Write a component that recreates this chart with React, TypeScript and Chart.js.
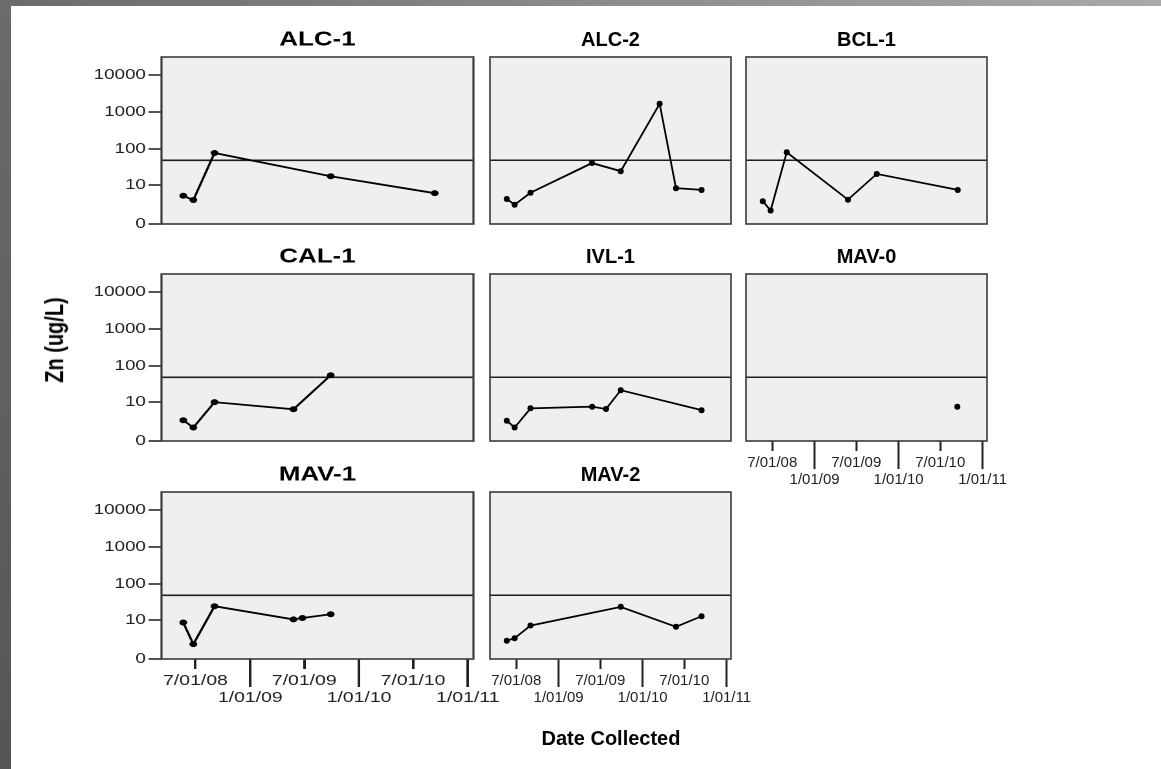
import React, { useEffect, useRef } from "react";
import { Chart, registerables } from "chart.js";

Chart.register(...registerables);

const FONT = '"Liberation Sans", Arial, Helvetica, sans-serif';

// Zn concentration (ug/L) by sampling date, one pair of arrays per site
const ALC1_DATES = ["2008-05-21", "2008-06-24", "2008-09-03", "2009-09-28", "2010-09-12"];
const ALC1_ZN = [4.7, 3.4, 79, 18, 5.7];

const ALC2_DATES = ["2008-05-21", "2008-06-24", "2008-09-01", "2009-05-26", "2009-09-28", "2010-03-16", "2010-05-26", "2010-09-14"];
const ALC2_ZN = [3.7, 2.3, 5.9, 42, 25, 1680, 8.1, 7.2];

const BCL1_DATES = ["2008-05-21", "2008-06-24", "2008-09-02", "2009-05-26", "2009-09-28", "2010-09-15"];
const BCL1_ZN = [3.1, 1.3, 83, 3.5, 21, 7.2];

const CAL1_DATES = ["2008-05-21", "2008-06-24", "2008-09-03", "2009-05-26", "2009-09-28"];
const CAL1_ZN = [2.6, 1.3, 10, 6.1, 57];

const IVL1_DATES = ["2008-05-21", "2008-06-24", "2008-09-01", "2009-05-27", "2009-07-26", "2009-09-28", "2010-09-14"];
const IVL1_ZN = [2.5, 1.3, 6.5, 7.3, 6.2, 22, 5.7];

const MAV0_DATES = ["2010-09-13"];
const MAV0_ZN = [7.3];

const MAV1_DATES = ["2008-05-21", "2008-06-24", "2008-09-03", "2009-05-26", "2009-06-25", "2009-09-28"];
const MAV1_ZN = [8.5, 1.5, 25, 10.5, 11.6, 14.8];

const MAV2_DATES = ["2008-05-21", "2008-06-24", "2008-09-01", "2009-09-28", "2010-05-26", "2010-09-14"];
const MAV2_ZN = [2.1, 2.6, 6.9, 24, 6.3, 13];

// Reference level drawn across every panel
const ZN_GUIDELINE = 50;

// Axis ticks
const Y_TICK_VALUES = [0, 10, 100, 1000, 10000];
const Y_TICK_LABELS = ["0", "10", "100", "1000", "10000"];
const Y_AXIS_TOP = 30000;

const X_MID_DATES = ["2008-07-01", "2009-07-01", "2010-07-01"];
const X_MID_LABELS = ["7/01/08", "7/01/09", "7/01/10"];
const X_NEW_DATES = ["2009-01-01", "2010-01-01", "2011-01-01"];
const X_NEW_LABELS = ["1/01/09", "1/01/10", "1/01/11"];
const X_START = "2008-03-09";
const X_END = "2011-01-20";

const dayOf = (s: string) => {
  const [y, m, d] = s.split("-").map(Number);
  return Date.UTC(y, m - 1, d) / 86400000;
};
// safe-log axis: log10(v + 1) keeps zero on the scale
const zAxis = (v: number) => Math.log10(v + 1);

type PanelSpec = {
  title: string;
  dates: string[];
  values: number[];
  col: number;
  row: number;
  showX: boolean;
};

const PANELS: PanelSpec[] = [
  { title: "ALC-1", dates: ALC1_DATES, values: ALC1_ZN, col: 0, row: 0, showX: false },
  { title: "ALC-2", dates: ALC2_DATES, values: ALC2_ZN, col: 1, row: 0, showX: false },
  { title: "BCL-1", dates: BCL1_DATES, values: BCL1_ZN, col: 2, row: 0, showX: false },
  { title: "CAL-1", dates: CAL1_DATES, values: CAL1_ZN, col: 0, row: 1, showX: false },
  { title: "IVL-1", dates: IVL1_DATES, values: IVL1_ZN, col: 1, row: 1, showX: false },
  { title: "MAV-0", dates: MAV0_DATES, values: MAV0_ZN, col: 2, row: 1, showX: true },
  { title: "MAV-1", dates: MAV1_DATES, values: MAV1_ZN, col: 0, row: 2, showX: true },
  { title: "MAV-2", dates: MAV2_DATES, values: MAV2_ZN, col: 1, row: 2, showX: true },
];

// Layout
const PLOT_W = 241;
const PLOT_H = 167;
const TITLE_H = 33;
const X_AXIS_H = 50;
const Y_AXIS_W = 100;
const RIGHT_PAD = 26;
const FIRST_COL_STRETCH = 312 / 241;
const ROW_TOPS = [57, 274, 492];
const COL_LEFTS = [161 - Y_AXIS_W * FIRST_COL_STRETCH, 480, 736];

const panelFrame = {
  id: "panelFrame",
  // the half-year axis shares its band with the year axis below the frame
  afterLayout(chart: any) {
    const s = chart.scales.x;
    if (s && s.options.display) s.bottom = s.top + X_AXIS_H;
  },
  beforeDraw(chart: any) {
    const { ctx, chartArea: a } = chart;
    ctx.save();
    ctx.fillStyle = "#efefef";
    ctx.fillRect(a.left, a.top, a.right - a.left, a.bottom - a.top);
    ctx.restore();
  },
  afterDatasetsDraw(chart: any) {
    const { ctx, chartArea: a } = chart;
    ctx.save();
    ctx.strokeStyle = "#3a3a3a";
    ctx.lineWidth = 1.6;
    ctx.strokeRect(a.left, a.top, a.right - a.left, a.bottom - a.top);
    ctx.restore();
  },
};

function Panel({ spec }: { spec: PanelSpec }) {
  const ref = useRef<HTMLCanvasElement>(null);
  const firstCol = spec.col === 0;
  const padL = firstCol ? 0 : 10;
  const width = (firstCol ? Y_AXIS_W : padL) + PLOT_W + RIGHT_PAD;
  const height = TITLE_H + PLOT_H + (spec.showX ? X_AXIS_H : 14);

  useEffect(() => {
    const xMin = dayOf(X_START);
    const xMax = dayOf(X_END);
    const tickFont = { family: FONT, size: 15 };
    const chart = new Chart(ref.current as HTMLCanvasElement, {
      type: "scatter",
      data: {
        datasets: [
          {
            data: spec.dates.map((d, i) => ({ x: dayOf(d), y: zAxis(spec.values[i]) })),
            showLine: true,
            borderColor: "#000",
            borderWidth: 1.8,
            pointRadius: 3,
            pointBackgroundColor: "#000",
            pointBorderWidth: 0,
            xAxisID: "x",
            yAxisID: "y",
          },
          {
            data: [
              { x: xMin, y: zAxis(ZN_GUIDELINE) },
              { x: xMax, y: zAxis(ZN_GUIDELINE) },
            ],
            showLine: true,
            borderColor: "#1e1e1e",
            borderWidth: 1.6,
            pointRadius: 0,
            xAxisID: "x",
            yAxisID: "y",
          },
        ],
      },
      options: {
        animation: false,
        responsive: false,
        devicePixelRatio: firstCol ? 2 : 1,
        events: [],
        layout: { padding: { left: padL, right: RIGHT_PAD, top: 0, bottom: spec.showX ? 0 : 14 } },
        plugins: {
          legend: { display: false },
          tooltip: { enabled: false },
          title: {
            display: true,
            text: spec.title,
            fullSize: false,
            color: "#000",
            font: { family: FONT, size: 20, weight: "bold" },
            padding: { top: 4, bottom: 5 },
          },
        },
        scales: {
          x: {
            type: "linear",
            position: "bottom",
            min: xMin,
            max: xMax,
            display: spec.showX,
            weight: 0,
            afterBuildTicks: (s: any) => {
              s.ticks = X_MID_DATES.map((d) => ({ value: dayOf(d) }));
            },
            afterFit: (s: any) => {
              s.height = 0;
            },
            ticks: {
              callback: (_v: any, i: number) => X_MID_LABELS[i],
              font: tickFont,
              color: "#222",
              padding: 3,
              maxRotation: 0,
              autoSkip: false,
            },
            grid: { drawOnChartArea: false, tickLength: 10, tickColor: "#222", tickWidth: 2 },
            border: { display: false },
          },
          x2: {
            type: "linear",
            axis: "x",
            position: "bottom",
            min: xMin,
            max: xMax,
            display: spec.showX,
            weight: 1,
            afterBuildTicks: (s: any) => {
              s.ticks = X_NEW_DATES.map((d) => ({ value: dayOf(d) }));
            },
            afterFit: (s: any) => {
              s.height = spec.showX ? X_AXIS_H : 0;
            },
            ticks: {
              callback: (_v: any, i: number) => X_NEW_LABELS[i],
              font: tickFont,
              color: "#222",
              padding: 2,
              maxRotation: 0,
              autoSkip: false,
            },
            grid: { drawOnChartArea: false, tickLength: 28, tickColor: "#222", tickWidth: 2 },
            border: { display: false },
          },
          y: {
            type: "linear",
            min: 0,
            max: zAxis(Y_AXIS_TOP),
            display: firstCol,
            afterBuildTicks: (s: any) => {
              s.ticks = Y_TICK_VALUES.map((v) => ({ value: zAxis(v) }));
            },
            afterFit: (s: any) => {
              s.width = firstCol ? Y_AXIS_W : 0;
            },
            ticks: {
              callback: (_v: any, i: number) => Y_TICK_LABELS[i],
              font: { family: FONT, size: 14.5 },
              color: "#222",
              padding: 2,
            },
            grid: { drawOnChartArea: false, tickLength: 10, tickColor: "#2a2a2a", tickWidth: 1.6 },
            border: { display: false },
          },
        },
      } as any,
      plugins: [panelFrame],
    });
    return () => chart.destroy();
  }, [spec]);

  return (
    <div
      style={{
        position: "absolute",
        left: COL_LEFTS[spec.col],
        top: ROW_TOPS[spec.row] - TITLE_H,
        transform: firstCol ? `scaleX(${FIRST_COL_STRETCH})` : undefined,
        transformOrigin: "0 0",
      }}
    >
      <canvas ref={ref} width={width} height={height} style={{ display: "block" }} />
    </div>
  );
}

export default function App() {
  return (
    <div
      style={{
        position: "absolute",
        left: 0,
        top: 0,
        width: 1161,
        height: 769,
        overflow: "hidden",
        background: "#fff",
        fontFamily: FONT,
      }}
    >
      <div
        style={{
          position: "absolute",
          left: 0,
          top: 0,
          width: 1161,
          height: 6,
          background: "linear-gradient(to right, #6b6b6b, #a9a9a9)",
        }}
      />
      <div
        style={{
          position: "absolute",
          left: 0,
          top: 0,
          width: 11,
          height: 769,
          background: "linear-gradient(#6b6b6b, #555555)",
        }}
      />
      {PANELS.map((p) => (
        <Panel key={p.title} spec={p} />
      ))}
      <div
        style={{
          position: "absolute",
          left: 55,
          top: 340,
          transform: `translate(-50%, -50%) scaleX(${FIRST_COL_STRETCH}) rotate(-90deg)`,
          fontWeight: "bold",
          fontSize: 20,
          whiteSpace: "nowrap",
          color: "#000",
        }}
      >
        Zn (ug/L)
      </div>
      <div
        style={{
          position: "absolute",
          left: 611,
          top: 738,
          transform: "translate(-50%, -50%)",
          fontWeight: "bold",
          fontSize: 20,
          whiteSpace: "nowrap",
          color: "#000",
        }}
      >
        Date Collected
      </div>
    </div>
  );
}
